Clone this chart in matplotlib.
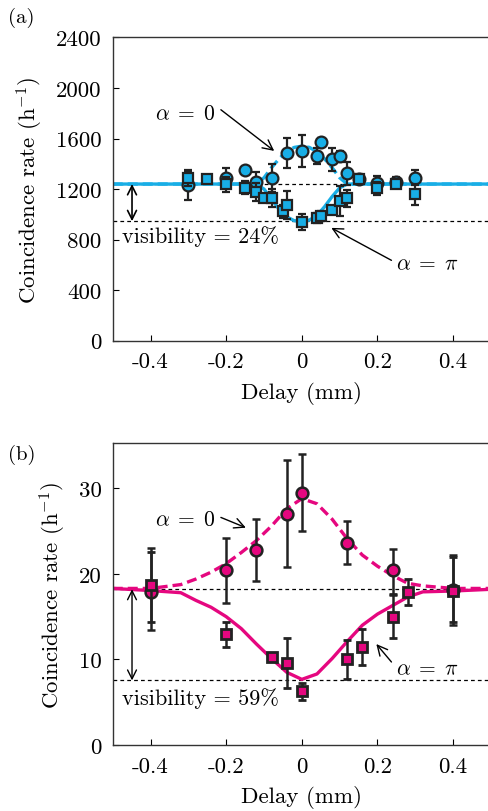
import matplotlib
matplotlib.use("Agg")
import matplotlib.pyplot as plt
import numpy as np

plt.rcParams['font.family'] = 'serif'
plt.rcParams['font.serif'] = ['cmr10', 'DejaVu Serif']
plt.rcParams['mathtext.fontset'] = 'cm'
plt.rcParams['axes.unicode_minus'] = False

CYAN = '#18aee6'
MAG = '#e5077f'
EDGE = '#222222'

# ---------------- Panel (a) data ----------------
a_x0 = [-0.30, -0.20, -0.15, -0.12, -0.08, -0.04, 0.00, 0.04, 0.05, 0.08, 0.10, 0.12, 0.15, 0.20, 0.25, 0.30]
a_y0 = [1235, 1290, 1354, 1258, 1290, 1483, 1502, 1462, 1571, 1436, 1465, 1325, 1277, 1245, 1253, 1290]
a_e0 = [120, 80, 0, 80, 110, 120, 130, 60, 30, 90, 40, 90, 40, 60, 40, 60]

a_xp = [-0.30, -0.25, -0.20, -0.15, -0.12, -0.10, -0.08, -0.05, -0.04, 0.00, 0.04, 0.05, 0.08, 0.10, 0.12, 0.15, 0.20, 0.25, 0.30]
a_yp = [1285, 1277, 1237, 1211, 1179, 1131, 1131, 1025, 1073, 940, 972, 988, 1033, 1105, 1126, 1277, 1205, 1237, 1158]
a_ep = [60, 0, 60, 50, 70, 30, 70, 50, 110, 60, 40, 40, 30, 120, 70, 30, 50, 30, 80]

a_fit_x = [-0.50, -0.12, -0.10, -0.08, -0.06, -0.04, -0.02, 0.00, 0.02, 0.04, 0.06, 0.08, 0.10, 0.12, 0.50]
a_fit0 = [1240, 1240, 1290, 1370, 1440, 1500, 1530, 1540, 1530, 1495, 1440, 1370, 1290, 1240, 1240]
a_fitp = [1240, 1240, 1200, 1120, 1040, 980, 950, 945, 955, 990, 1060, 1140, 1210, 1240, 1240]
a_levels = [1240, 946]

# ---------------- Panel (b) data ----------------
b_x0 = [-0.40, -0.20, -0.12, -0.04, 0.00, 0.12, 0.24, 0.40]
b_y0 = [17.9, 20.4, 22.8, 27.0, 29.5, 23.6, 20.4, 18.1]
b_lo0 = [13.4, 16.6, 19.2, 20.8, 25.0, 21.1, 17.5, 14.0]
b_hi0 = [23.0, 24.2, 26.4, 33.3, 34.0, 26.2, 22.9, 22.2]

b_xp = [-0.40, -0.20, -0.08, -0.04, 0.00, 0.12, 0.16, 0.24, 0.28, 0.40]
b_yp = [18.7, 13.0, 10.3, 9.6, 6.3, 10.0, 11.4, 15.0, 17.9, 18.0]
b_lop = [14.4, 11.4, 10.0, 6.7, 5.2, 7.7, 9.4, 12.5, 16.4, 14.4]
b_hip = [22.6, 14.4, 10.6, 12.5, 7.2, 12.3, 13.5, 17.7, 19.4, 22.0]

b_fit_x = [-0.50, -0.40, -0.32, -0.28, -0.24, -0.20, -0.16, -0.12, -0.08, -0.04, 0.00, 0.04, 0.08, 0.12, 0.16, 0.20, 0.24, 0.28, 0.32, 0.40, 0.50]
b_fit0 = [18.3, 18.3, 18.75, 19.4, 20.2, 21.2, 22.5, 23.9, 25.6, 27.6, 28.8, 28.2, 26.4, 24.1, 22.2, 20.9, 19.8, 18.9, 18.6, 18.3, 18.3]
b_fitp = [18.3, 18.05, 17.8, 16.9, 16.1, 15.0, 13.6, 11.8, 10.1, 8.5, 7.67, 8.3, 10.1, 12.1, 14.0, 15.3, 16.3, 17.3, 17.9, 18.0, 18.2]
b_levels = [18.2, 7.55]

xticks = [-0.4, -0.2, 0, 0.2, 0.4]
xticklabels = ['-0.4', '-0.2', '0', '0.2', '0.4']
a_yticks = [0, 400, 800, 1200, 1600, 2000, 2400]
b_yticks = [0, 10, 20, 30]

fig = plt.figure(figsize=(4.88, 8.12), dpi=100)
axa = fig.add_axes([0.231, 0.5792, 0.775, 0.3734])
axb = fig.add_axes([0.231, 0.0813, 0.775, 0.3719])

def style(ax, yticks, ylim):
    ax.set_xlim(-0.5, 0.5)
    ax.set_ylim(*ylim)
    ax.set_xticks(xticks)
    ax.set_xticklabels(xticklabels)
    ax.set_yticks(yticks)
    ax.tick_params(direction='in', length=4, width=0.8, labelsize=16.5, top=False, right=False)
    ax.tick_params(axis='y', pad=8)
    ax.tick_params(axis='x', pad=8)
    ax.spines['right'].set_visible(False)
    for s in ['left', 'bottom', 'top']:
        ax.spines[s].set_linewidth(1.0)
        ax.spines[s].set_color('#333333')
    ax.set_xlabel('Delay (mm)', fontsize=16.5, labelpad=7)
    ax.set_ylabel('Coincidence rate (h$^{-1}$)', fontsize=16.5, labelpad=8)

ALPHA0 = r'$\alpha\;=\;0$'
ALPHAPI = r'$\alpha\;=\;\pi$'

# Panel (a)
ax = axa
style(ax, a_yticks, (0, 2400))
for lv in a_levels:
    ax.axhline(lv, color='black', lw=0.9, ls=(0, (3, 2.5)), zorder=1)
ax.plot(a_fit_x, a_fitp, color=CYAN, lw=2.4, zorder=2)
ax.plot(a_fit_x, a_fit0, color=CYAN, lw=2.4, ls=(0, (3, 1.5)), zorder=2)
ax.errorbar(a_x0, a_y0, yerr=a_e0, fmt='o', ms=8.5, mfc=CYAN, mec=EDGE, mew=1.6,
            ecolor=EDGE, elinewidth=1.6, capsize=3, capthick=1.6, zorder=3)
ax.errorbar(a_xp, a_yp, yerr=a_ep, fmt='s', ms=7, mfc=CYAN, mec=EDGE, mew=1.6,
            ecolor=EDGE, elinewidth=1.6, capsize=3, capthick=1.6, zorder=4)
ax.annotate('', xy=(-0.449, a_levels[1]), xytext=(-0.449, a_levels[0]),
            arrowprops=dict(arrowstyle='<->', color='black', lw=1.2, mutation_scale=16,
                            shrinkA=0, shrinkB=0))
ax.text(-0.475, 832, 'visibility = 24%', fontsize=16, ha='left', va='center')
ax.text(-0.387, 1801, ALPHA0, fontsize=15.5, ha='left', va='center')
ax.annotate('', xy=(-0.073, 1502), xytext=(-0.214, 1828),
            arrowprops=dict(arrowstyle='->', color='black', lw=1.0, mutation_scale=18,
                            shrinkA=0, shrinkB=0))
ax.text(0.25, 609, ALPHAPI, fontsize=15.5, ha='left', va='center')
ax.annotate('', xy=(0.078, 893), xytext=(0.237, 636),
            arrowprops=dict(arrowstyle='->', color='black', lw=1.0, mutation_scale=18,
                            shrinkA=0, shrinkB=0))

# Panel (b)
ax = axb
style(ax, b_yticks, (0, 35.3))
for lv in b_levels:
    ax.axhline(lv, color='black', lw=0.9, ls=(0, (3, 2.5)), zorder=1)
ax.plot(b_fit_x, b_fitp, color=MAG, lw=2.4, zorder=2)
ax.plot(b_fit_x, b_fit0, color=MAG, lw=2.4, ls=(0, (3, 1.5)), zorder=2)
yerr0 = [np.array(b_y0) - np.array(b_lo0), np.array(b_hi0) - np.array(b_y0)]
yerrp = [np.array(b_yp) - np.array(b_lop), np.array(b_hip) - np.array(b_yp)]
ax.errorbar(b_x0, b_y0, yerr=yerr0, fmt='o', ms=8.5, mfc=MAG, mec=EDGE, mew=1.8,
            ecolor=EDGE, elinewidth=1.8, capsize=3, capthick=1.8, zorder=3)
ax.errorbar(b_xp, b_yp, yerr=yerrp, fmt='s', ms=6.5, mfc=MAG, mec=EDGE, mew=2.0,
            ecolor=EDGE, elinewidth=1.8, capsize=3, capthick=1.8, zorder=4)
ax.annotate('', xy=(-0.449, b_levels[1]), xytext=(-0.449, b_levels[0]),
            arrowprops=dict(arrowstyle='<->', color='black', lw=1.0, mutation_scale=16,
                            shrinkA=0, shrinkB=0))
ax.text(-0.475, 5.6, 'visibility = 59%', fontsize=16, ha='left', va='center')
ax.text(-0.387, 26.4, ALPHA0, fontsize=15.5, ha='left', va='center')
ax.annotate('', xy=(-0.148, 25.4), xytext=(-0.214, 26.6),
            arrowprops=dict(arrowstyle='->', color='black', lw=1.0, mutation_scale=18,
                            shrinkA=0, shrinkB=0))
ax.text(0.25, 8.9, ALPHAPI, fontsize=15.5, ha='left', va='center')
ax.annotate('', xy=(0.197, 11.8), xytext=(0.237, 9.7),
            arrowprops=dict(arrowstyle='->', color='black', lw=1.0, mutation_scale=18,
                            shrinkA=0, shrinkB=0))

fig.text(8 / 488, 1 - 18 / 812, '(a)', fontsize=15, ha='left', va='center')
fig.text(8 / 488, 1 - 455 / 812, '(b)', fontsize=15, ha='left', va='center')

fig.savefig('out.png', dpi=100)
